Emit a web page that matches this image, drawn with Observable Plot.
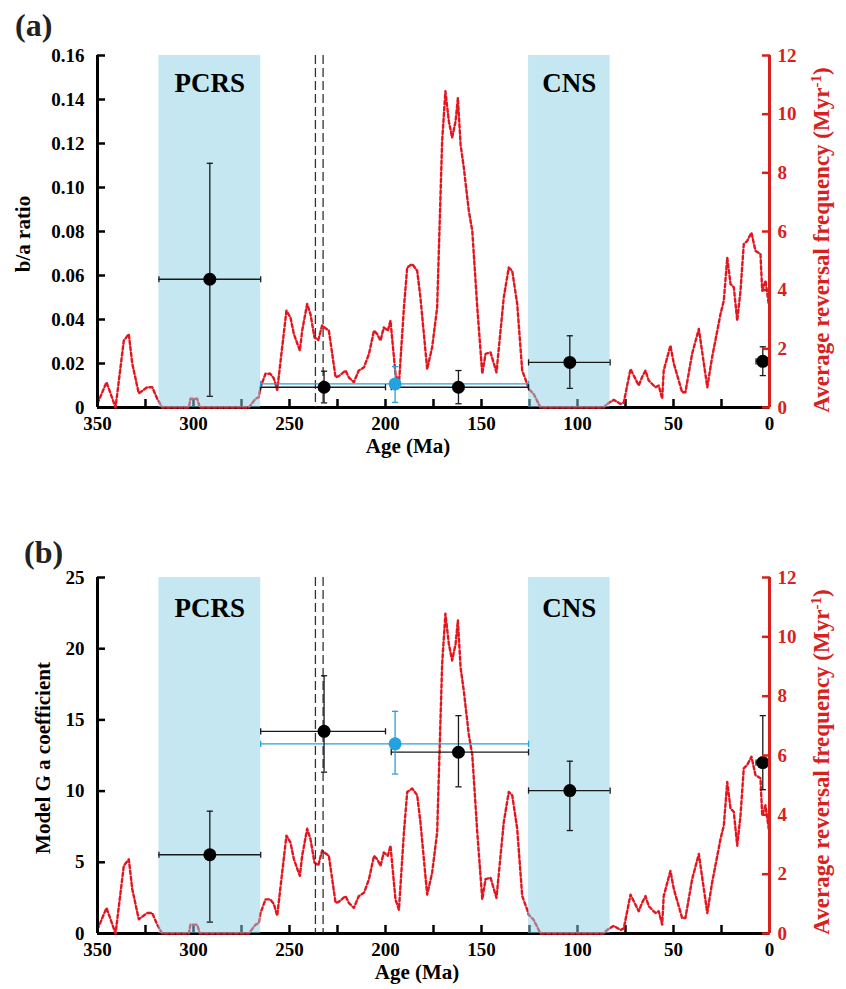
<!DOCTYPE html>
<html><head><meta charset="utf-8">
<script src="https://cdn.jsdelivr.net/npm/d3@7"></script>
<script src="https://cdn.jsdelivr.net/npm/@observablehq/plot@0.6"></script>
<style>
body{margin:0;background:#fff;}
#wrap{position:relative;width:846px;height:989px;overflow:hidden;background:#fff;}
#wrap svg{position:absolute;left:0;overflow:visible;}
</style></head><body><div id="wrap"></div>
<script>
// Reversal frequency curve (age Ma, frequency Myr^-1)
const revAge = [350,345.3,340.6,336.3,333.7,331.9,328.5,324.1,321.5,318.9,316.3,302.4,301.6,298.1,296.7,271.2,267.7,266,265.1,262.5,260,258.2,256.4,251.6,249.5,247.7,244.6,243.4,240.8,239.1,237,235,233,231.8,229.5,226,224.3,220.8,219.1,216.5,213.9,211.2,208.6,206,204.3,202.6,200.9,198.8,197.4,194.8,193,190.4,188.7,186.1,183.5,181.8,178.3,175.7,173.1,170.5,168.8,167,165.3,163.5,162.3,160.9,159.2,156.6,154.8,152.2,149.6,147.9,145.3,142.2,138.4,135.8,134,131.4,128.8,126.2,125.4,122.8,119.3,86.3,84.6,81.1,77.6,75.9,72.4,68.1,66.4,64.6,62.9,59.4,57.7,55.9,55.1,51.6,49.8,45.5,43.8,40.3,36.8,32.4,29.9,25.5,23.8,22,20.3,18.6,16.8,15.1,13.4,11.6,9.4,7.3,4.7,3.8,2.1,0.4];
const revFreq = [0.14,0.86,0,2.28,2.5,1.5,0.48,0.69,0.69,0.3,0,0,0.3,0.3,0,0,0.3,0.35,0.69,1.15,1.15,1.0,0.6,3.3,3.07,2.5,1.94,2.62,3.53,3.19,2.39,2.3,2.8,2.73,2.62,1.03,1.07,1.26,1.03,0.86,1.26,1.37,1.83,2.62,2.5,2.28,2.73,2.62,2.96,1.15,0.8,3.41,4.77,4.89,4.66,3.75,1.31,2.05,3.41,9.08,10.78,9.76,9.2,9.76,10.55,8.97,8.17,6.7,6.02,3.41,1.15,1.83,1.88,1.2,3.75,4.77,4.66,3.53,1.26,0.8,0.63,0.46,0,0,0.12,0.26,0.12,0.17,1.31,0.75,1.03,1.26,0.92,0.69,0.75,0.3,1.26,2.11,1.49,0.52,0.52,1.83,2.68,0.69,1.71,3.19,3.64,5.11,4.21,4.1,2.96,3.98,5.57,5.68,5.96,5.34,5.23,3.98,4.32,3.53];

// Superchrons
const bandNames = ["PCRS","CNS"];
const bandStart = [318,125.5];
const bandEnd = [265,83];
// Dashed reference ages
const dashAges = [236.5,232.5];

// Data points
const ptAge = [291.5,232,195,162,104,3.5];
const ptOld = [318,265,265,197,125.5,7];
const ptYoung = [265,200,125.5,125.5,83,0];
const ptGroup = ["k","k","b","k","k","k"];
// (a) b/a ratio
const baVal = [0.0583,0.0092,0.0107,0.0092,0.0205,0.021];
const baLo = [0.0051,0.0021,0.0023,0.0017,0.0087,0.0145];
const baHi = [0.111,0.0165,0.0186,0.0168,0.0326,0.0276];
// (b) Model G a coefficient
const gVal = [5.53,14.2,13.32,12.73,10.04,12.0];
const gLo = [0.8,11.33,11.2,10.3,7.23,10.1];
const gHi = [8.59,18.1,15.6,15.3,12.1,15.3];

const xTicks = d3.range(0,351,25);
const freqTicks = [0,2,4,6,8,10,12];

const RED_LINE = "#e3161f", RED_AX = "#d8201c";
const BAR = {k:"#1a1a1a", b:"#2aa0da"};
const DOT = {k:"#000000", b:"#22a3e0"};
const FONT = "'Liberation Serif', 'Times New Roman', serif";

const hcap = {draw(ctx, size){const w=Math.sqrt(size); ctx.moveTo(-w/2,0); ctx.lineTo(w/2,0);}};
const vcap = {draw(ctx, size){const w=Math.sqrt(size); ctx.moveTo(0,-w/2); ctx.lineTo(0,w/2);}};

function panel(o){
  const k = o.ymax/12;
  const line = revAge.map((a,i)=>({age:a, v:revFreq[i]*k}));
  const pts = ptAge.map((a,i)=>({age:a, old:ptOld[i], young:ptYoung[i], g:ptGroup[i], v:o.val[i], lo:o.lo[i], hi:o.hi[i]}));
  const bands = bandNames.map((n,i)=>({name:n, s:bandStart[i], e:bandEnd[i]}));
  const svg = Plot.plot({
    width:846, height:o.height, marginTop:o.mt, marginBottom:o.mb, marginLeft:97, marginRight:77,
    style:{fontFamily:FONT, fontSize:"19px", fontWeight:"bold", color:"black", background:"white", overflow:"visible"},
    x:{domain:[350,0], label:null},
    y:{domain:[0,o.ymax], label:null},
    marks:[
      Plot.axisX({ticks:xTicks, tickFormat:d=>d%50===0?String(d):"", tickSize:-8, tickPadding:17, strokeWidth:2.5, label:null}),
      Plot.ruleY([0], {stroke:"black", strokeWidth:3}),
      Plot.line(line, {x:"age", y:"v", stroke:RED_LINE, strokeWidth:2.4, strokeDasharray:"3.5,2.5"}),
      Plot.rect(bands, {x1:"s", x2:"e", fill:"rgb(139,207,227)", fillOpacity:0.5}),
      Plot.text(bands, {x:d=>(d.s+d.e)/2, frameAnchor:"top", dy:o.labDy, text:"name", fontSize:27, fontWeight:"bold", fill:"black"}),
      Plot.ruleX(dashAges, {stroke:"#333", strokeWidth:1.3, strokeDasharray:"9,4"}),
      Plot.ruleY(pts, {y:"v", x1:"old", x2:"young", stroke:d=>BAR[d.g], strokeWidth:1.3}),
      Plot.ruleX(pts, {x:"age", y1:"lo", y2:"hi", stroke:d=>BAR[d.g], strokeWidth:1.3}),
      Plot.dot(pts, {x:"age", y:"hi", symbol:hcap, r:3.5, stroke:d=>BAR[d.g], fill:"none", strokeWidth:1.3}),
      Plot.dot(pts, {x:"age", y:"lo", symbol:hcap, r:3.5, stroke:d=>BAR[d.g], fill:"none", strokeWidth:1.3}),
      Plot.dot(pts, {x:"old", y:"v", symbol:vcap, r:3.5, stroke:d=>BAR[d.g], fill:"none", strokeWidth:1.3}),
      Plot.dot(pts, {x:"young", y:"v", symbol:vcap, r:3.5, stroke:d=>BAR[d.g], fill:"none", strokeWidth:1.3}),
      Plot.dot(pts, {x:"age", y:"v", r:6.5, fill:d=>DOT[d.g], stroke:"none"}),
      Plot.axisY({ticks:o.yticks, tickFormat:o.yfmt, tickSize:-8, tickPadding:21, strokeWidth:2.5, label:null}),
      Plot.ruleX([350], {stroke:"black", strokeWidth:3}),
      Plot.axisY({anchor:"right", ticks:freqTicks.map(v=>v*k), tickFormat:d=>String(Math.round(d/k)), tickSize:-8, tickPadding:16, strokeWidth:2.5, color:RED_AX, label:null}),
      Plot.ruleX([0], {stroke:RED_AX, strokeWidth:3})
    ]
  });
  const s = d3.select(svg).style("top", o.top+"px");
  s.append("text").attr("x",o.tagX).attr("y",o.tagY).attr("text-anchor","start").attr("font-size",32).attr("font-weight","bold").attr("font-family",FONT).attr("fill","#222").text(o.tag);
  s.append("text").attr("transform",`translate(${o.ylabX},${o.ylabY}) rotate(-90)`).attr("text-anchor","middle").attr("font-size",21).attr("font-weight","bold").attr("font-family",FONT).attr("fill","black").text(o.ylab);
  s.append("text").attr("x",o.xlabX).attr("y",o.xlabY).attr("text-anchor","middle").attr("font-size",21).attr("font-weight","bold").attr("font-family",FONT).attr("fill","black").text("Age (Ma)");
  const r = s.append("text").attr("transform",`translate(829,${o.rlabY}) rotate(-90)`).attr("text-anchor","middle").attr("font-size",23).attr("font-family",FONT).attr("fill",RED_AX);
  r.append("tspan").text("Average reversal frequency (Myr");
  r.append("tspan").attr("baseline-shift","super").attr("font-size",15).text("-1");
  r.append("tspan").text(")");
  document.getElementById("wrap").appendChild(svg);
}

panel({ymax:0.16, yticks:d3.range(0,0.161,0.02), yfmt:d=>d===0?"0":d.toFixed(2), val:baVal, lo:baLo, hi:baHi,
  height:494, top:0, mt:55, mb:87, labDy:17, tag:"(a)", tagX:15, tagY:36, ylab:"b/a ratio", ylabX:30, ylabY:234,
  xlabX:408, xlabY:453, rlabY:240});
panel({ymax:25, yticks:[0,5,10,15,20,25], yfmt:d=>String(d), val:gVal, lo:gLo, hi:gHi,
  height:495, top:494, mt:83, mb:56, labDy:20, tag:"(b)", tagX:24, tagY:69, ylab:"Model G a coefficient", ylabX:50, ylabY:264,
  xlabX:417, xlabY:485, rlabY:268});
</script></body></html>
